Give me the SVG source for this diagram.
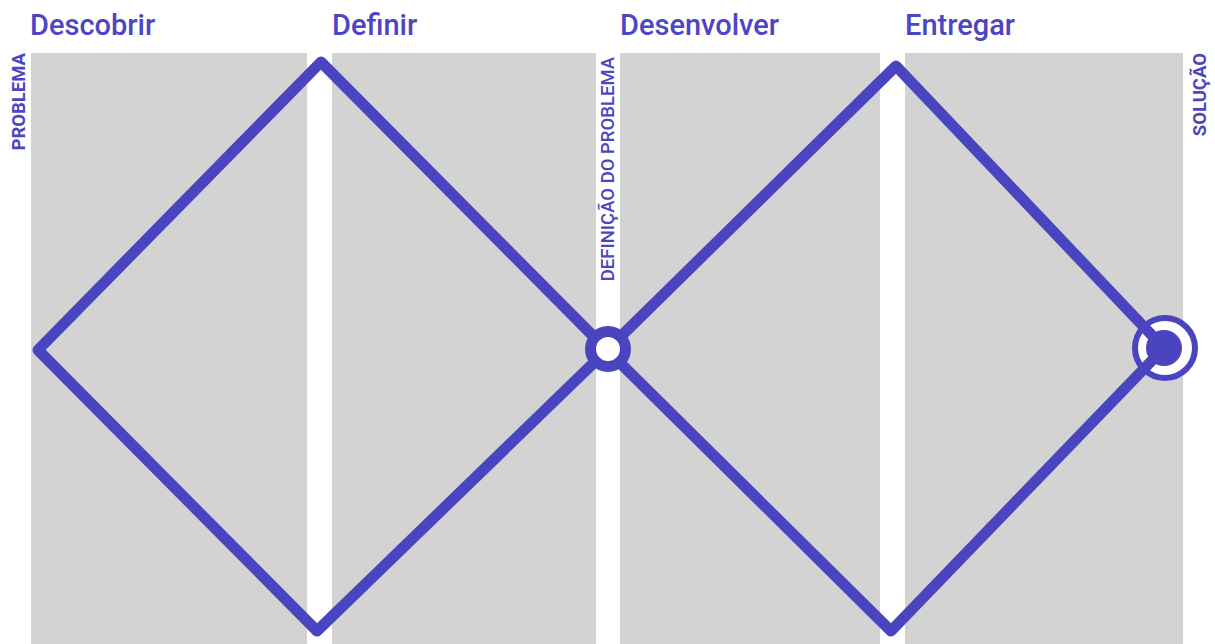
<svg xmlns="http://www.w3.org/2000/svg" width="1215" height="644" viewBox="0 0 1215 644">
  <style>
    .panel { fill: #d3d3d3; }
    .title { font-family: Roboto, "Liberation Sans", sans-serif; font-size: 29px; font-weight: 500; fill: #4c46c2; }
    .vlabel { font-family: Roboto, "Liberation Sans", sans-serif; font-size: 18.5px; fill: #4c46c2; text-anchor: end; }
    .line { fill: none; stroke: #4b44c0; stroke-width: 11; stroke-linejoin: round; }
  </style>
  <rect x="0" y="0" width="1215" height="644" fill="#ffffff"/>
  <g id="panels">
    <rect class="panel" x="31" y="53" width="276" height="591"/>
    <rect class="panel" x="332" y="53" width="264" height="591"/>
    <rect class="panel" x="620" y="53" width="260" height="591"/>
    <rect class="panel" x="905" y="53" width="278" height="591"/>
  </g>
  <g id="titles">
    <text class="title" x="30" y="35">Descobrir</text>
    <text class="title" x="332" y="35">Definir</text>
    <text class="title" x="620" y="35">Desenvolver</text>
    <text class="title" x="905" y="35">Entregar</text>
  </g>
  <g id="labels">
    <text class="vlabel" font-weight="700" transform="translate(25,53) rotate(-90)">PROBLEMA</text>
    <text class="vlabel" font-weight="500" transform="translate(614,57) rotate(-90)">DEFINIÇÃO DO PROBLEMA</text>
    <text class="vlabel" font-weight="700" transform="translate(1206,53) rotate(-90)">SOLUÇÃO</text>
  </g>
  <g id="connectors">
    <circle cx="1165" cy="348" r="30" fill="#ffffff" stroke="#4b44c0" stroke-width="6"/>
    <path class="line" d="M607,350 L321,62 L38,350 L317,631 Z"/>
    <path class="line" d="M607,350 L896,66 L1164,348 L891,631 Z"/>
  </g>
  <g id="node-definicao">
    <circle cx="608" cy="349" r="17.5" fill="#ffffff" stroke="#4b44c0" stroke-width="11"/>
  </g>
  <g id="node-solucao">
    <circle cx="1164" cy="348" r="18" fill="#4b44c0"/>
  </g>
</svg>
